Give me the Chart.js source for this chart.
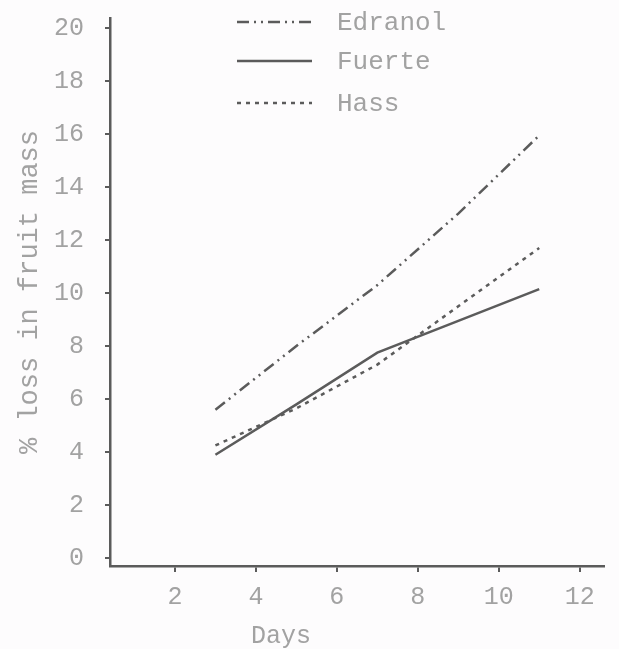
<!DOCTYPE html>
<html>
<head>
<meta charset="utf-8">
<script src="https://cdn.jsdelivr.net/npm/chart.js@4.4.0/dist/chart.umd.min.js"></script>
<style>
  html, body { margin: 0; padding: 0; background: #fdfcfd; }
  canvas { display: block; }
</style>
</head>
<body>
<canvas id="lossGraph" width="619" height="649"></canvas>
<script>
// values
const days = [3, 5, 7, 9, 11];
const edranol = [5.6, 8.0, 10.3, 13.0, 15.95];
const fuerte = [3.9, 5.8, 7.75, 8.95, 10.15];
const hass = [4.25, 5.65, 7.3, 9.5, 11.7];
const dayTicks = [2, 4, 6, 8, 10, 12];
const lossTicks = [0, 2, 4, 6, 8, 10, 12, 14, 16, 18, 20];

const typewriter = "'Liberation Mono', 'DejaVu Sans Mono', monospace";
const inkLine = '#5b5b5b';
const inkText = '#a2a2a2';

const toPoints = vals => vals.map((v, i) => ({ x: days[i], y: v }));

// legend sits inside the plot, stacked, typewriter style
const stackedLegend = {
    id: 'stackedLegend',
    afterDraw(chart) {
        const c = chart.ctx;
        const rows = [22, 61, 103];
        c.save();
        chart.data.datasets.forEach((ds, i) => {
            const y = rows[i];
            c.strokeStyle = ds.borderColor;
            c.lineWidth = ds.borderWidth;
            c.setLineDash(ds.borderDash || []);
            c.beginPath();
            c.moveTo(237, y);
            c.lineTo(312, y);
            c.stroke();
            c.setLineDash([]);
            c.fillStyle = inkText;
            c.font = '26px ' + typewriter;
            c.textBaseline = 'middle';
            c.fillText(ds.label, 337, y + 1);
        });
        // x axis title sits left of centre in the original
        c.font = '25px ' + typewriter;
        c.textAlign = 'center';
        c.fillText('Days', 281, 636);
        c.restore();
    }
};

new Chart(document.getElementById('lossGraph').getContext('2d'), {
    type: 'line',
    data: {
        datasets: [
            {
                label: 'Edranol',
                data: toPoints(edranol),
                borderColor: inkLine,
                borderWidth: 2.5,
                borderDash: [12, 5, 2, 5, 2, 5],
                pointRadius: 0
            },
            {
                label: 'Fuerte',
                data: toPoints(fuerte),
                borderColor: inkLine,
                borderWidth: 2.5,
                pointRadius: 0
            },
            {
                label: 'Hass',
                data: toPoints(hass),
                borderColor: inkLine,
                borderWidth: 2.5,
                borderDash: [4, 5],
                pointRadius: 0
            }
        ]
    },
    options: {
        responsive: false,
        animation: false,
        layout: { padding: { top: 18, right: 15, left: 0, bottom: 0 } },
        scales: {
            x: {
                type: 'linear',
                min: 0.395,
                max: 12.6,
                afterBuildTicks: s => { s.ticks = dayTicks.map(v => ({ value: v })); },
                afterFit: s => { s.height = 83; s.paddingLeft = 0; s.paddingRight = 0; },
                grid: { drawOnChartArea: false, tickLength: 6, color: inkLine, lineWidth: 2 },
                border: { color: inkLine, width: 2.5 },
                ticks: { font: { family: typewriter, size: 25 }, color: inkText, padding: 10 }
            },
            y: {
                min: -0.3,
                max: 20.38,
                afterBuildTicks: s => { s.ticks = lossTicks.map(v => ({ value: v })); },
                afterFit: s => { s.width = 110; s.paddingTop = 0; s.paddingBottom = 0; },
                grid: { drawOnChartArea: false, tickLength: 5, color: inkLine, lineWidth: 2 },
                border: { color: inkLine, width: 2.5 },
                ticks: { font: { family: typewriter, size: 25 }, color: inkText, padding: 21 },
                title: {
                    display: true,
                    text: '% loss in fruit mass',
                    font: { family: typewriter, size: 27 },
                    color: inkText,
                    padding: { top: 14, bottom: 0 }
                }
            }
        },
        plugins: {
            legend: { display: false },
            tooltip: { enabled: false }
        }
    },
    plugins: [stackedLegend]
});
</script>
</body>
</html>
